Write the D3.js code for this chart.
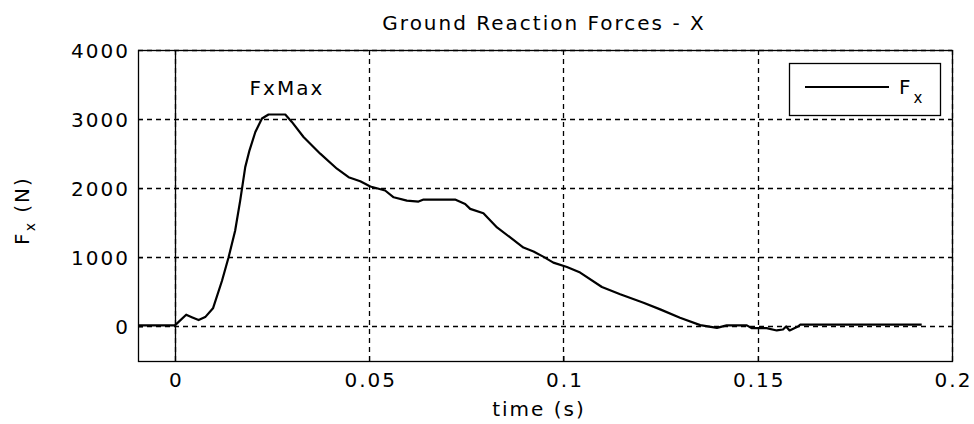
<!DOCTYPE html>
<html>
<head>
<meta charset="utf-8">
<script src="https://cdn.jsdelivr.net/npm/d3@7"></script>
<style>
  html, body { margin: 0; padding: 0; background: #fff; }
  svg text { font-family: "DejaVu Sans", Verdana, sans-serif; fill: #000; }
</style>
</head>
<body>
<svg id="chart" width="974" height="424"></svg>
<script>
// ---- data ----
const timeS = [-0.0095, 0, 0.0029, 0.0045, 0.0061, 0.0078, 0.0098, 0.0121, 0.0138, 0.0155,
  0.0168, 0.0181, 0.0192, 0.0207, 0.0224, 0.0241, 0.0284, 0.0301, 0.0331, 0.0374,
  0.0417, 0.0447, 0.0477, 0.0503, 0.0541, 0.0563, 0.0597, 0.0627, 0.0640, 0.0721,
  0.0747, 0.0760, 0.0794, 0.0829, 0.0863, 0.0897, 0.0923, 0.0949, 0.0974, 0.1009,
  0.1043, 0.1099, 0.1146, 0.1206, 0.1249, 0.1300, 0.1352, 0.1395, 0.1420, 0.1472,
  0.1485, 0.1523, 0.1549, 0.1565, 0.1573, 0.1582, 0.1605, 0.1609, 0.1922];
const forceFx = [15, 15, 170, 130, 92, 135, 262, 658, 997, 1385,
  1821, 2305, 2548, 2814, 3009, 3067, 3067, 2959, 2741, 2500,
  2282, 2160, 2100, 2025, 1967, 1869, 1821, 1807, 1836, 1836,
  1773, 1701, 1637, 1433, 1288, 1142, 1084, 1007, 924, 860,
  779, 571, 465, 343, 247, 125, 19, -20, 15, 15,
  -25, -25, -58, -44, 0, -58, 4, 25, 25];
const xTicks = [0, 0.05, 0.1, 0.15, 0.2];
const xTickLabels = ["0", "0.05", "0.1", "0.15", "0.2"];
const yTicks = [0, 1000, 2000, 3000, 4000];
const yTickLabels = ["0", "1000", "2000", "3000", "4000"];
const xDomain = [-0.0095, 0.2];
const yDomain = [-500, 4000];
const titleText = "Ground Reaction Forces - X";
const xLabelText = "time (s)";
const peakLabel = "FxMax";
const seriesName = "F";
const seriesSub = "x";

// ---- layout ----
const plot = { left: 138, right: 952, top: 50, bottom: 361 };
const FS = 20, LS = 2;
const FONT = "DejaVu Sans, Verdana, sans-serif";

const svg = d3.select("#chart");
const x = d3.scaleLinear().domain(xDomain).range([plot.left, plot.right]);
const y = d3.scaleLinear().domain(yDomain).range([plot.bottom, plot.top]);

// grid
const grid = svg.append("g").attr("stroke", "#000").attr("stroke-width", 1.3)
  .attr("stroke-dasharray", "5,4").attr("fill", "none");
grid.selectAll("line.gx").data(xTicks).join("line")
  .attr("x1", d => Math.round(x(d)) + 0.5).attr("x2", d => Math.round(x(d)) + 0.5)
  .attr("y1", plot.top).attr("y2", plot.bottom);
grid.selectAll("line.gy").data(yTicks).join("line")
  .attr("y1", d => Math.round(y(d)) + 0.5).attr("y2", d => Math.round(y(d)) + 0.5)
  .attr("x1", plot.left).attr("x2", plot.right);

// zero time marker (solid)
svg.append("line")
  .attr("x1", Math.round(x(0)) + 0.5).attr("x2", Math.round(x(0)) + 0.5)
  .attr("y1", plot.top).attr("y2", plot.bottom)
  .attr("stroke", "#000").attr("stroke-width", 1.3);

// axes
const xAxis = d3.axisBottom(x).tickValues(xTicks)
  .tickFormat((d, i) => xTickLabels[i]).tickSize(-5).tickPadding(12);
const yAxis = d3.axisLeft(y).tickValues(yTicks)
  .tickFormat((d, i) => yTickLabels[i]).tickSize(-5).tickPadding(10);

const gx = svg.append("g").attr("transform", `translate(0,${plot.bottom})`).call(xAxis);
const gy = svg.append("g").attr("transform", `translate(${plot.left},0)`).call(yAxis);
[gx, gy].forEach(g => {
  g.select(".domain").remove();
  g.selectAll(".tick line").attr("stroke", "#000");
  g.selectAll(".tick text").attr("font-size", FS).attr("letter-spacing", LS)
    .attr("font-family", FONT).attr("fill", "#000");
});
gx.selectAll(".tick text").attr("dx", LS / 2);
gy.selectAll(".tick text").attr("dx", LS).attr("dy", "0.36em");

// box
svg.append("rect")
  .attr("x", plot.left + 0.5).attr("y", plot.top + 0.5)
  .attr("width", plot.right - plot.left).attr("height", plot.bottom - plot.top)
  .attr("fill", "none").attr("stroke", "#000").attr("stroke-width", 1.3);

// series line
const pts = timeS.map((t, i) => [t, forceFx[i]]);
const line = d3.line().x(d => x(d[0])).y(d => y(d[1]));
svg.append("path").datum(pts).attr("d", line)
  .attr("fill", "none").attr("stroke", "#000").attr("stroke-width", 2.2)
  .attr("stroke-linejoin", "round");

// peak label
const maxV = d3.max(forceFx);
const peakTimes = timeS.filter((t, i) => forceFx[i] === maxV);
const peakT = d3.mean(peakTimes);
svg.append("text").attr("x", x(peakT) + 9).attr("y", y(maxV) - 19)
  .attr("text-anchor", "middle").attr("font-size", FS).attr("letter-spacing", LS)
  .attr("dx", LS / 2).text(peakLabel);

// title
svg.append("text").attr("x", (plot.left + plot.right) / 2).attr("y", 30)
  .attr("text-anchor", "middle").attr("font-size", FS).attr("letter-spacing", LS)
  .attr("dx", LS / 2 - 2).text(titleText);

// x label
svg.append("text").attr("x", (plot.left + plot.right) / 2 - 7).attr("y", 416)
  .attr("text-anchor", "middle").attr("font-size", FS).attr("letter-spacing", LS)
  .attr("dx", LS / 2).text(xLabelText);

// y label
const yl = svg.append("text")
  .attr("transform", `translate(29,${(plot.top + plot.bottom) / 2 + 5}) rotate(-90)`)
  .attr("text-anchor", "middle").attr("font-size", FS).attr("letter-spacing", LS);
yl.append("tspan").text(seriesName);
yl.append("tspan").attr("font-size", 14).attr("dy", 6).text(seriesSub);
yl.append("tspan").attr("dy", -6).text(" (N)");

// legend
const lg = svg.append("g");
lg.append("rect").attr("x", 789.5).attr("y", 63.5).attr("width", 151).attr("height", 52)
  .attr("fill", "#fff").attr("stroke", "#000").attr("stroke-width", 1.3);
lg.append("line").attr("x1", 805).attr("x2", 889).attr("y1", 87).attr("y2", 87)
  .attr("stroke", "#000").attr("stroke-width", 2.2);
const lt = lg.append("text").attr("x", 899).attr("y", 94).attr("font-size", FS);
lt.append("tspan").text(seriesName);
lt.append("tspan").attr("font-size", 15).attr("dx", 3).attr("dy", 9).text(seriesSub);
</script>
</body>
</html>
